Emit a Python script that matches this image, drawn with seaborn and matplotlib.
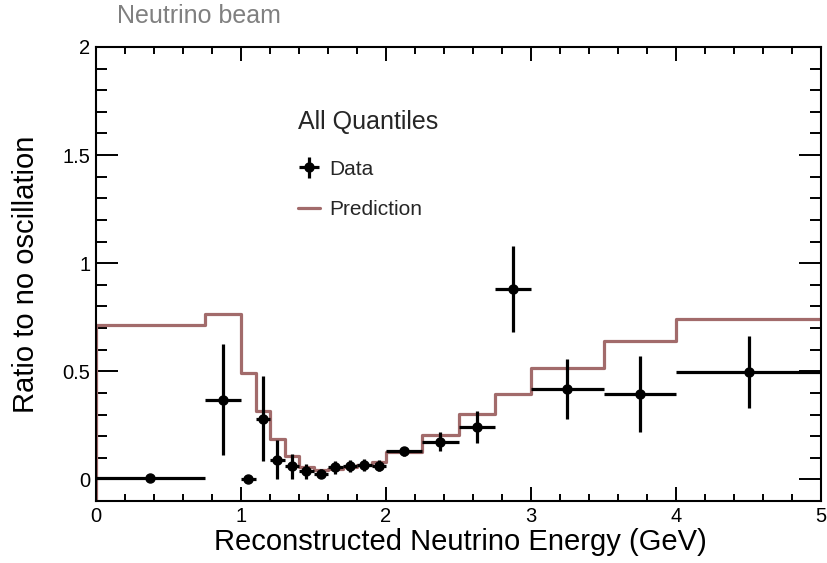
import numpy as np
import pandas as pd
import matplotlib
matplotlib.use("Agg")
import matplotlib.pyplot as plt
import seaborn as sns
from matplotlib.ticker import MultipleLocator, FixedLocator
from matplotlib.lines import Line2D

# ---------------- data ----------------
bin_edges = [0.0, 0.75, 1.0, 1.1, 1.2, 1.3, 1.4, 1.5, 1.6, 1.7, 1.8, 1.9,
             2.0, 2.25, 2.5, 2.75, 3.0, 3.5, 4.0, 5.0]
prediction = [0.716, 0.764, 0.494, 0.318, 0.188, 0.106, 0.058, 0.045, 0.048,
              0.055, 0.068, 0.080, 0.128, 0.207, 0.304, 0.397, 0.515, 0.641, 0.741]
data_values = [0.005, 0.368, 0.0, 0.280, 0.090, 0.060, 0.038, 0.026, 0.055,
               0.062, 0.066, 0.064, 0.130, 0.175, 0.242, 0.880, 0.417, 0.395, 0.497]
data_errors = [0.0, 0.257, 0.01, 0.197, 0.090, 0.057, 0.035, 0.020, 0.028,
               0.027, 0.026, 0.026, 0.022, 0.042, 0.075, 0.200, 0.138, 0.175, 0.166]
x_major_ticks = [0, 1, 2, 3, 4, 5]
y_major_ticks = [0, 0.5, 1, 1.5, 2]
y_tick_labels = ["0", "0.5", "1", "1.5", "2"]

edges = np.array(bin_edges)
centers = 0.5 * (edges[:-1] + edges[1:])
halfw = 0.5 * (edges[1:] - edges[:-1])

df_pred = pd.DataFrame({"E": edges, "ratio": prediction + [prediction[-1]]})

# ---------------- style ----------------
sns.set_theme(style="ticks")
plt.rcParams["font.family"] = ["Liberation Sans", "DejaVu Sans"]

pred_color = "#a26b6b"

fig = plt.figure(figsize=(8.27, 5.63), dpi=100)
ax = fig.add_axes([96 / 827, 62 / 563, 725 / 827, 454 / 563])

ylow, yhigh = -0.1, 2.0

# prediction histogram outline
sns.lineplot(data=df_pred, x="E", y="ratio", drawstyle="steps-post",
             color=pred_color, linewidth=2.3, ax=ax, zorder=2)
ax.vlines(edges[0], ylow, prediction[0], color=pred_color, linewidth=2.3, zorder=2)

# data points with errors
eb = ax.errorbar(centers, data_values, xerr=halfw, yerr=data_errors, fmt="o",
                 color="black", ms=6.5, elinewidth=2.3, capsize=0, zorder=3,
                 label="Data")

ax.set_xlim(edges[0], edges[-1])
ax.set_ylim(ylow, yhigh)

ax.xaxis.set_major_locator(FixedLocator(x_major_ticks))
ax.xaxis.set_minor_locator(MultipleLocator(0.2))
ax.yaxis.set_major_locator(FixedLocator(y_major_ticks))
ax.set_yticklabels(y_tick_labels)
ax.yaxis.set_minor_locator(MultipleLocator(0.1))

ax.tick_params(which="both", direction="in", top=True, right=True,
               color="black", width=1.4, labelsize=14.5, labelcolor="black")
ax.tick_params(axis="x", which="major", length=10, pad=4)
ax.tick_params(axis="x", which="minor", length=4.7)
ax.tick_params(axis="y", which="major", length=16, pad=4)
ax.tick_params(axis="y", which="minor", length=8)

for sp in ax.spines.values():
    sp.set_color("black")
    sp.set_linewidth(1.5)
    sp.set_visible(True)

ax.set_xlabel("Reconstructed Neutrino Energy (GeV)", fontsize=21, color="black")
ax.set_ylabel("Ratio to no oscillation", fontsize=21, color="black")
ax.xaxis.set_label_coords((460 - 96) / 725, (501 - 528) / 454)
ax.yaxis.set_label_coords((40 - 96) / 725, 0.5)

fig.text(117 / 827, 1 - 16 / 563, "Neutrino beam", color="#808080",
         fontsize=18, ha="left", va="center")

pred_handle = Line2D([], [], color=pred_color, linewidth=2.3, label="Prediction")
leg = ax.legend(handles=[eb, pred_handle], title="All Quantiles",
                loc="upper left", bbox_to_anchor=(298 / 827, 1 - 110 / 563),
                bbox_transform=fig.transFigure, frameon=False, fontsize=15,
                title_fontsize=18, alignment="left", borderpad=0,
                borderaxespad=0, handlelength=1.05, handletextpad=0.45,
                labelspacing=1.04)
# a little more room between the legend title and its first entry
leg._legend_box.sep = 1.04 * 15 + 2.9

fig.savefig("out.png", dpi=100)
